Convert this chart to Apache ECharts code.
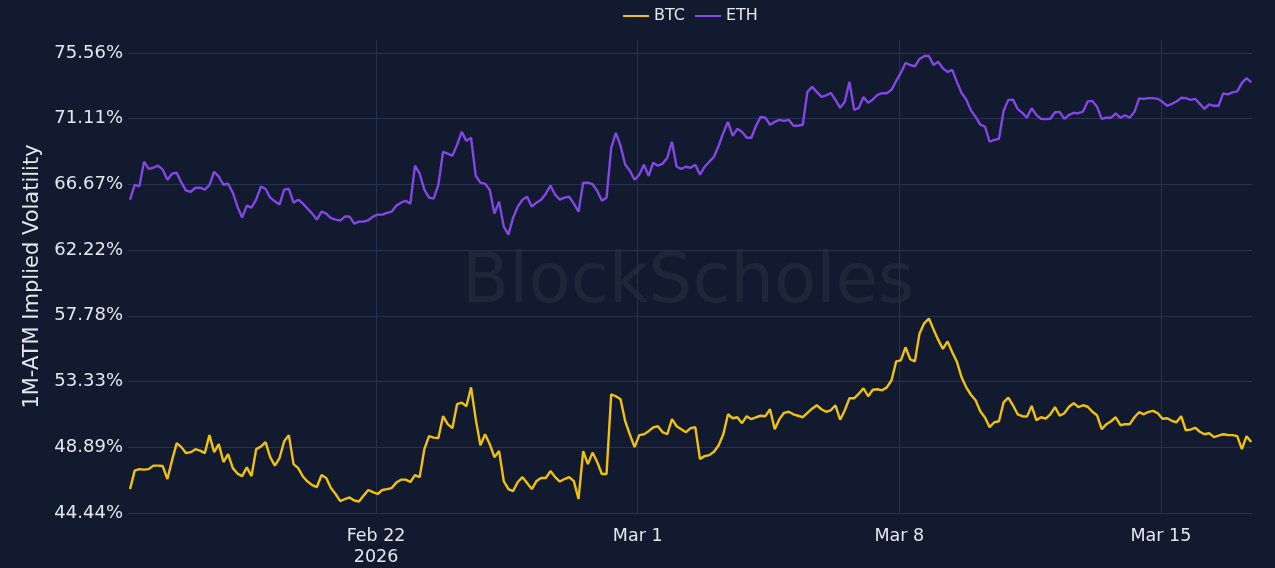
<!DOCTYPE html>
<html><head><meta charset="utf-8">
<script src="https://cdn.jsdelivr.net/npm/echarts@6/dist/echarts.min.js"></script>
<style>html,body{margin:0;padding:0;background:#111a2e;}#c{width:1275px;height:568px;}</style>
</head><body><div id="c"></div>
<script>
// first sample time (UTC) and spacing of samples
const startTime = Date.UTC(2026, 1, 15, 10, 0, 0);
const stepHours = 3;

const btc = [
46.06,47.31,47.41,47.38,47.41,47.65,47.65,47.62,46.74,48.02,
49.17,48.90,48.49,48.56,48.76,48.66,48.49,49.71,48.56,49.10,
47.89,48.43,47.48,47.11,46.94,47.53,46.94,48.76,48.93,49.24,
48.22,47.65,48.16,49.30,49.71,47.75,47.48,46.91,46.57,46.33,
46.20,47.01,46.81,46.13,45.73,45.25,45.39,45.50,45.29,45.22,
45.62,46.00,45.86,45.73,46.00,46.06,46.13,46.50,46.70,46.70,
46.54,47.01,46.87,48.76,49.64,49.54,49.51,50.99,50.45,50.18,
51.80,51.91,51.66,52.94,50.79,49.03,49.77,49.10,48.22,48.63,
46.60,46.06,45.93,46.54,46.87,46.47,46.06,46.60,46.81,46.81,
47.28,46.87,46.57,46.74,46.87,46.60,45.39,48.63,47.75,48.53,
47.89,47.08,47.08,52.47,52.34,52.14,50.65,49.74,48.90,49.71,
49.77,49.98,50.23,50.31,49.91,49.77,50.79,50.31,50.11,49.91,
50.18,50.25,48.09,48.29,48.36,48.59,49.03,49.77,51.12,50.85,
50.92,50.52,50.99,50.79,50.92,51.02,50.99,51.46,50.11,50.79,
51.22,51.29,51.12,51.02,50.92,51.22,51.50,51.73,51.46,51.29,
51.39,51.73,50.75,51.39,52.20,52.20,52.51,52.88,52.34,52.78,
52.81,52.74,52.94,53.42,54.70,54.77,55.65,54.84,54.70,56.59,
57.27,57.60,56.86,56.15,55.54,56.05,55.31,54.67,53.62,52.94,
52.44,52.07,51.33,50.90,50.25,50.58,50.65,51.93,52.25,51.73,
51.12,50.99,50.96,51.69,50.72,50.92,50.82,51.12,51.60,51.02,
51.19,51.63,51.87,51.60,51.73,51.63,51.29,51.05,50.11,50.45,
50.65,50.92,50.38,50.45,50.45,50.92,51.26,51.12,51.28,51.35,
51.19,50.82,50.85,50.68,50.58,50.99,50.04,50.08,50.21,49.94,
49.77,49.84,49.57,49.67,49.77,49.72,49.71,49.64,48.76,49.64,
49.24
];

const eth = [
65.63,66.64,66.53,68.20,67.72,67.79,67.93,67.66,66.98,67.39,
67.45,66.78,66.24,66.17,66.44,66.44,66.31,66.61,67.52,67.19,
66.64,66.71,66.11,65.16,64.42,65.23,65.09,65.63,66.51,66.37,
65.77,65.53,65.30,66.31,66.37,65.43,65.63,65.36,65.03,64.69,
64.28,64.82,64.69,64.38,64.28,64.22,64.49,64.49,64.01,64.15,
64.15,64.24,64.49,64.62,64.62,64.74,64.82,65.23,65.43,65.56,
65.36,67.93,67.39,66.31,65.77,65.70,66.64,68.87,68.74,68.60,
69.34,70.22,69.61,69.82,67.25,66.78,66.71,66.31,64.69,65.50,
63.81,63.27,64.42,65.16,65.63,65.83,65.16,65.43,65.63,66.04,
66.58,65.97,65.63,65.77,65.83,65.36,64.82,66.78,66.78,66.68,
66.24,65.56,65.77,69.14,70.15,69.28,67.99,67.59,66.98,67.32,
67.99,67.25,68.13,67.93,68.06,68.47,69.55,67.86,67.72,67.86,
67.79,67.99,67.32,67.86,68.20,68.53,69.28,70.15,70.90,69.95,
70.42,70.22,69.82,69.82,70.63,71.23,71.17,70.70,70.90,71.03,
70.96,71.03,70.63,70.63,70.70,72.92,73.26,72.92,72.58,72.68,
72.85,72.38,71.84,72.25,73.60,71.71,71.84,72.58,72.18,72.41,
72.72,72.83,72.83,73.06,73.66,74.20,74.88,74.74,74.64,75.15,
75.35,75.35,74.74,74.96,74.51,74.27,74.41,73.60,72.85,72.41,
71.67,71.23,70.70,70.58,69.55,69.68,69.75,71.64,72.38,72.40,
71.77,71.50,71.17,71.82,71.37,71.10,71.08,71.10,71.54,71.57,
71.10,71.37,71.50,71.48,71.59,72.27,72.31,71.91,71.10,71.17,
71.17,71.47,71.17,71.34,71.17,71.57,72.48,72.45,72.50,72.50,
72.45,72.25,71.98,72.11,72.27,72.52,72.50,72.38,72.45,72.11,
71.77,72.08,71.98,71.98,72.82,72.75,72.89,72.96,73.53,73.85,
73.56
];

const yTickValues = [44.4444, 48.8889, 53.3333, 57.7778, 62.2222, 66.6667, 71.1111, 75.5556];
const yTickLabels = ['44.44%', '48.89%', '53.33%', '57.78%', '62.22%', '66.67%', '71.11%', '75.56%'];
const xTickValues = [Date.UTC(2026, 1, 22), Date.UTC(2026, 2, 1), Date.UTC(2026, 2, 8), Date.UTC(2026, 2, 15)];
const xTickLabels = ['Feb 22\n2026', 'Mar 1', 'Mar 8', 'Mar 15'];

const H = 3600e3;
const toPoints = arr => arr.map((v, i) => [startTime + i * stepHours * H, v]);
const endTime = startTime + (btc.length - 1) * stepHours * H;

const FONT = 'DejaVu Sans';
const TXT = '#e4e6ea';
const GRIDC = '#26324f';

const chart = echarts.init(document.getElementById('c'), null, {renderer: 'canvas'});
chart.setOption({
  backgroundColor: '#111a2e',
  animation: false,
  textStyle: {fontFamily: FONT},
  legend: {
    top: 3, left: 618, icon: 'rect', itemWidth: 26, itemHeight: 2, itemGap: 10,
    textStyle: {color: TXT, fontSize: 16, fontFamily: FONT},
    data: ['BTC', 'ETH']
  },
  graphic: [{
    type: 'text', left: 462, top: 250, silent: true, z: 0,
    style: {text: 'BlockScholes', fontSize: 69, fontFamily: FONT, fill: 'rgba(255,255,255,0.055)'}
  }],
  grid: {left: 128, right: 23, top: 40, bottom: 54, containLabel: false},
  xAxis: {
    type: 'value',
    min: startTime - 1.3 * H,
    max: endTime + 0.5 * H,
    axisLine: {show: false},
    axisTick: {show: false, customValues: xTickValues},
    axisLabel: {
      customValues: xTickValues,
      formatter: v => { const k = xTickValues.indexOf(v); return k >= 0 ? xTickLabels[k] : ''; },
      color: TXT, fontSize: 17.5, margin: 13, lineHeight: 21, fontFamily: FONT
    },
    splitLine: {show: true, lineStyle: {color: GRIDC, width: 1}}
  },
  yAxis: {
    type: 'value',
    min: 44.4444,
    max: 76.43,
    name: '1M-ATM Implied Volatility',
    nameLocation: 'middle',
    nameGap: 85,
    nameTextStyle: {color: TXT, fontSize: 21, fontFamily: FONT},
    axisLine: {show: false},
    axisTick: {show: false, customValues: yTickValues},
    axisLabel: {
      customValues: yTickValues,
      formatter: v => { const k = yTickValues.indexOf(v); return k >= 0 ? yTickLabels[k] : ''; },
      color: TXT, fontSize: 18, margin: 5, fontFamily: FONT
    },
    splitLine: {show: true, lineStyle: {color: GRIDC, width: 1}}
  },
  series: [
    {name: 'BTC', type: 'line', data: toPoints(btc), showSymbol: false, symbol: 'none',
     lineStyle: {color: '#f0c20f', width: 2.4}, itemStyle: {color: '#f0c20f'}},
    {name: 'ETH', type: 'line', data: toPoints(eth), showSymbol: false, symbol: 'none',
     lineStyle: {color: '#8247e5', width: 2.4}, itemStyle: {color: '#8247e5'}}
  ]
});
</script></body></html>
